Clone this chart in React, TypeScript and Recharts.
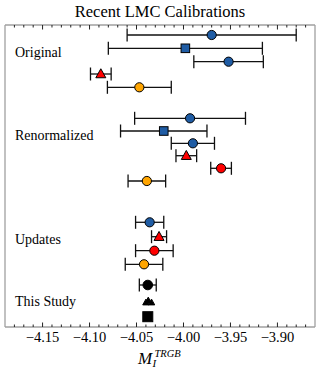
import { ScatterChart, Scatter, XAxis, YAxis, ErrorBar } from "recharts";

// M_I^TRGB value, half-width of the error bar, vertical row position, marker style
const centers = [-3.97, -3.998, -3.952, -4.088, -4.047, -3.993, -4.021, -3.99, -3.997, -3.96, -4.039, -4.036, -4.026, -4.031, -4.042, -4.038, -4.04, -4.0375, -4.034, -4.038];
const errors = [0.09, 0.082, 0.037, 0.011, 0.034, 0.059, 0.046, 0.023, 0.011, 0.011, 0.02, 0.015, 0.008, 0.02, 0.02, 0.009, 0, 0, 0, 0];
const rows = [10, 23.3, 36.7, 49, 62.3, 93.3, 106, 118.3, 130.7, 143.3, 156, 197.3, 211.7, 225.7, 239.3, 260, 277.5, 275.5, 277.5, 291.7];
const styles = ["blueCircle", "blueSquare", "blueCircle", "redTriangle", "orangeCircle", "blueCircle", "blueSquare", "blueCircle", "redTriangle", "redCircle", "orangeCircle", "blueCircle", "redTriangle", "redCircle", "orangeCircle", "blackCircle", "blackTriangle", "blackTriangle", "blackTriangle", "blackSquare"];

const groupLabels = ["Original", "Renormalized", "Updates", "This Study"];
const groupLabelY = [56.7, 140, 244, 306];

const allTicks = Array.from({ length: 32 }, (_, i) => Math.round((-4.18 + i * 0.01) * 100) / 100);

const BLUE = "#1f5ca4";
const RED = "#ff0000";
const ORANGE = "#ffa500";
const BLACK = "#000000";
const FRAME = "#a0a0a0";
const FONT = "'Liberation Serif', 'Times New Roman', serif";

const markerStyle: Record<string, { kind: string; fill: string; size: number }> = {
  blueCircle: { kind: "circle", fill: BLUE, size: 4.6 },
  blueSquare: { kind: "square", fill: BLUE, size: 4.3 },
  redTriangle: { kind: "triangle", fill: RED, size: 5 },
  orangeCircle: { kind: "circle", fill: ORANGE, size: 4.6 },
  redCircle: { kind: "circle", fill: RED, size: 4.6 },
  blackCircle: { kind: "circle", fill: BLACK, size: 4.8 },
  blackTriangle: { kind: "triangle", fill: BLACK, size: 3.2 },
  blackSquare: { kind: "square", fill: BLACK, size: 5 },
};

const points = centers.map((x, i) => ({ x, err: errors[i], y: rows[i], style: styles[i] }));
const styleKeys = Object.keys(markerStyle);
const withErr = points.filter((p) => p.err > 0);

const makeShape = (key: string) => (props: any) => {
  const { cx, cy } = props;
  const m = markerStyle[key];
  const s = m.size;
  if (m.kind === "circle") {
    return <circle cx={cx} cy={cy} r={s} fill={m.fill} stroke="#000" strokeWidth={1} />;
  }
  if (m.kind === "square") {
    return <rect x={cx - s} y={cy - s} width={2 * s} height={2 * s} fill={m.fill} stroke="#000" strokeWidth={1} />;
  }
  return (
    <polygon
      points={`${cx},${cy - s * 1.05} ${cx + s},${cy + s * 0.75} ${cx - s},${cy + s * 0.75}`}
      fill={m.fill}
      stroke="#000"
      strokeWidth={1}
    />
  );
};

const NoShape = () => <g />;

const AxisTick = (props: any) => {
  const { x, y, payload, side } = props;
  const v = payload.value;
  const major = Math.round(v * 100) % 5 === 0;
  const len = major ? 4.5 : 2.5;
  const dir = side === "bottom" ? -1 : 1;
  return (
    <g>
      <line x1={x} y1={y} x2={x} y2={y + dir * len} stroke="#222" strokeWidth={1} />
      {side === "bottom" && major && (
        <text x={x} y={y + 15} textAnchor="middle" fontFamily={FONT} fontSize={14.5} fill="#000">
          {"\u2212" + Math.abs(v).toFixed(2)}
        </text>
      )}
    </g>
  );
};

export default function App() {
  return (
    <div style={{ position: "absolute", left: 0, top: 0, width: 320, height: 373, background: "#fff" }}>
      <ScatterChart width={320} height={373} margin={{ top: 24, right: 4, bottom: 45, left: 4 }}>
        <XAxis
          xAxisId="bottom"
          type="number"
          dataKey="x"
          domain={[-4.19, -3.86]}
          allowDataOverflow
          ticks={allTicks}
          interval={0}
          height={1}
          tickSize={0}
          tickMargin={0}
          tickLine={false}
          axisLine={{ stroke: FRAME, strokeWidth: 1.3 }}
          tick={<AxisTick side="bottom" />}
        />
        <XAxis
          xAxisId="top"
          orientation="top"
          type="number"
          dataKey="x"
          domain={[-4.19, -3.86]}
          allowDataOverflow
          ticks={allTicks}
          interval={0}
          height={1}
          tickSize={0}
          tickMargin={0}
          tickLine={false}
          axisLine={{ stroke: FRAME, strokeWidth: 1.3 }}
          tick={<AxisTick side="top" />}
        />
        <YAxis
          yAxisId="left"
          type="number"
          dataKey="y"
          domain={[0, 302]}
          reversed
          width={1}
          tick={false}
          tickLine={false}
          axisLine={{ stroke: FRAME, strokeWidth: 1.3 }}
        />
        <YAxis
          yAxisId="right"
          orientation="right"
          type="number"
          domain={[0, 302]}
          reversed
          width={1}
          tick={false}
          tickLine={false}
          axisLine={{ stroke: FRAME, strokeWidth: 1.3 }}
        />
        <Scatter
          data={withErr}
          xAxisId="bottom"
          yAxisId="left"
          isAnimationActive={false}
          shape={NoShape}
        >
          <ErrorBar dataKey="err" direction="x" width={6.5} stroke="#111" strokeWidth={1.3} />
        </Scatter>
        {styleKeys.map((key) => (
          <Scatter
            key={key}
            data={points.filter((p) => p.style === key)}
            xAxisId="bottom"
            yAxisId="left"
            isAnimationActive={false}
            shape={makeShape(key)}
          />
        ))}
      </ScatterChart>
      <svg width={320} height={373} style={{ position: "absolute", left: 0, top: 0, pointerEvents: "none" }}>
        <text x={160} y={16.7} textAnchor="middle" fontFamily={FONT} fontSize={16.5} fill="#000">
          Recent LMC Calibrations
        </text>
        {groupLabels.map((label, i) => (
          <text key={label} x={15} y={groupLabelY[i]} fontFamily={FONT} fontSize={14} fill="#000">
            {label}
          </text>
        ))}
        <text x={138} y={363.5} fontFamily={FONT} fontSize={17} fontStyle="italic" fill="#000">M</text>
        <text x={152.5} y={367} fontFamily={FONT} fontSize={11} fontStyle="italic" fill="#000">I</text>
        <text x={154.5} y={357} fontFamily={FONT} fontSize={10.5} fontStyle="italic" fill="#000">TRGB</text>
      </svg>
    </div>
  );
}
